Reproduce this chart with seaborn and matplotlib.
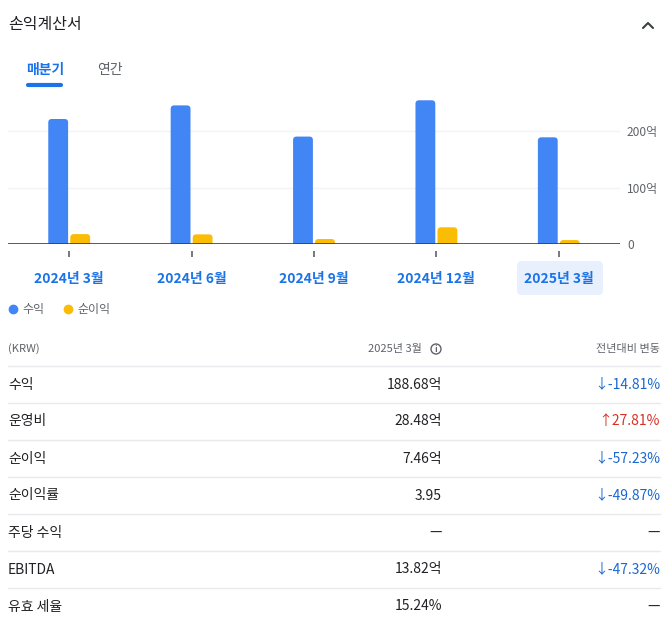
import numpy as np
import pandas as pd
import matplotlib
matplotlib.use("Agg")
import matplotlib.pyplot as plt
from matplotlib.patches import FancyBboxPatch, Circle
from matplotlib.lines import Line2D
import seaborn as sns

sns.set_theme(style="white")
plt.rcParams['font.family'] = ['Noto Sans CJK KR', 'DejaVu Sans']

# chart data (억 KRW)
quarters = ['2024년 3월', '2024년 6월', '2024년 9월', '2024년 12월', '2025년 3월']
revenue = [221.0, 245.0, 190.0, 254.0, 188.68]
net_income = [18.0, 17.5, 9.3, 30.0, 7.46]
series_names = ['수익', '순이익']
yticks = [0, 100, 200]
ytick_labels = ['0', '100억', '200억']

# table data
row_labels = ['수익', '운영비', '순이익', '순이익률', '주당 수익', 'EBITDA', '유효 세율']
row_values = ['188.68억', '28.48억', '7.46억', '3.95', '—', '13.82억', '15.24%']
row_changes = ['-14.81%', '27.81%', '-57.23%', '-49.87%', '—', '-47.32%', '—']
row_dirs = ['down', 'up', 'down', 'down', None, 'down', None]

BLUE = '#4285f4'
GOLD = '#fbbc04'
LINK = '#1a73e8'
DARK = '#202124'
GREY = '#5f6368'
W, H = 672, 636

df = pd.DataFrame({
    'quarter': quarters * 2,
    'series': [series_names[0]] * len(quarters) + [series_names[1]] * len(quarters),
    'value': revenue + net_income,
})

fig = plt.figure(figsize=(W / 100, H / 100), dpi=100)

# overlay in pixel coordinates for the card decorations and table
bg = fig.add_axes([0, 0, 1, 1], zorder=0)
bg.set_xlim(0, W)
bg.set_ylim(H, 0)
bg.axis('off')

bg.text(8, 25, '손익계산서', fontsize=11.5, color=DARK, va='center', ha='left')
bg.plot([643, 648, 653], [28, 23, 28], color='#3c4043', lw=1.5, solid_capstyle='round',
        solid_joinstyle='round')
bg.text(45, 70, '매분기', fontsize=10, color=LINK, va='center', ha='center', weight='semibold')
bg.text(110, 70, '연간', fontsize=10, color=GREY, va='center', ha='center')
bg.plot([28, 61], [85, 85], color=LINK, lw=3, solid_capstyle='round')

# highlight behind last quarter label
bg.add_patch(FancyBboxPatch((517, 261), 86, 34, boxstyle='round,pad=0,rounding_size=5',
                            fc='#e8f0fe', ec='none'))

# chart axes
ax_left, ax_right, base_y = 8, 620, 244.3
px_per_unit = 0.567
ymax = 260
top_y = base_y - ymax * px_per_unit
ax = fig.add_axes([ax_left / W, 1 - base_y / H, (ax_right - ax_left) / W, (base_y - top_y) / H],
                  zorder=1)
ax.patch.set_alpha(0)

sns.barplot(data=df, x='quarter', y='value', hue='series', order=quarters,
            hue_order=series_names, palette=[BLUE, GOLD], width=0.36, gap=0.1,
            legend=False, ax=ax, saturation=1)

ax.set_xlim(-0.5, len(quarters) - 0.5)
ax.set_ylim(0, ymax)

# round the bar tops (bottom corners hidden below the baseline)
x_px = (ax_right - ax_left) / len(quarters)
radius_px = 3.5
aspect = x_px / px_per_unit
for p in list(ax.patches):
    x0, w, h = p.get_x(), p.get_width(), p.get_height()
    ext = 20
    rb = FancyBboxPatch((x0, -ext), w, h + ext,
                        boxstyle=f'round,pad=0,rounding_size={radius_px / x_px}',
                        mutation_aspect=aspect, fc=p.get_facecolor(), ec='none', zorder=2)
    p.remove()
    ax.add_patch(rb)

ax.set_xlabel('')
ax.set_ylabel('')
ax.set_yticks(yticks)
ax.set_yticklabels(ytick_labels)
ax.yaxis.tick_right()
ax.tick_params(axis='y', length=0, pad=5, labelsize=8.6, labelcolor=GREY)
for y in yticks[1:]:
    ax.axhline(y, color='#f1f3f4', lw=1, zorder=0)
ax.axhline(0, color='#3c4043', lw=1.2, zorder=3)

for s in ['top', 'right', 'left']:
    ax.spines[s].set_visible(False)
ax.spines['bottom'].set_color('none')
ax.spines['bottom'].set_position(('outward', 5))
ax.tick_params(axis='x', length=4, width=1.2, color='#5f6368', direction='out', pad=11,
               labelsize=10, labelcolor=LINK, bottom=True)
for lab in ax.get_xticklabels():
    lab.set_fontweight('semibold')

# legend
handles = [Line2D([], [], marker='o', ls='none', color=c, markersize=6) for c in (BLUE, GOLD)]
fig.legend(handles, series_names, loc='center left', bbox_to_anchor=(3 / W, 1 - 310 / H), ncol=2,
           frameon=False, fontsize=8.6, labelcolor=GREY, handletextpad=0.3, columnspacing=1.5,
           handlelength=1.0, borderaxespad=0, borderpad=0.3)

# table
bg.text(8, 349, '(KRW)', fontsize=8, color=GREY, va='center', ha='left')
bg.text(422, 349, '2025년 3월', fontsize=8, color=GREY, va='center', ha='right')
bg.add_patch(Circle((436, 349), 5, fc='none', ec=GREY, lw=1))
bg.text(436, 349.5, 'i', fontsize=6, color=GREY, va='center', ha='center', weight='bold')
bg.text(660, 349, '전년대비 변동', fontsize=8, color=GREY, va='center', ha='right')

row_h = 37
first_line = 366
for i, (lab, val, chg, d) in enumerate(zip(row_labels, row_values, row_changes, row_dirs)):
    line_y = first_line + i * row_h
    bg.plot([8, 660], [line_y, line_y], color='#e8eaed', lw=1)
    cy = line_y + 18.5
    bg.text(8, cy, lab, fontsize=10, color=DARK, va='center', ha='left')
    bg.text(442, cy, val, fontsize=10, color=DARK, va='center', ha='right')
    if d == 'down':
        bg.text(660, cy, '↓-' + chg.lstrip('-'), fontsize=10, color='#1967d2', va='center',
                ha='right')
    elif d == 'up':
        bg.text(660, cy, '↑' + chg, fontsize=10, color='#d93025', va='center', ha='right')
    else:
        bg.text(660, cy, chg, fontsize=10, color=DARK, va='center', ha='right')

fig.savefig('out.png', dpi=100)
